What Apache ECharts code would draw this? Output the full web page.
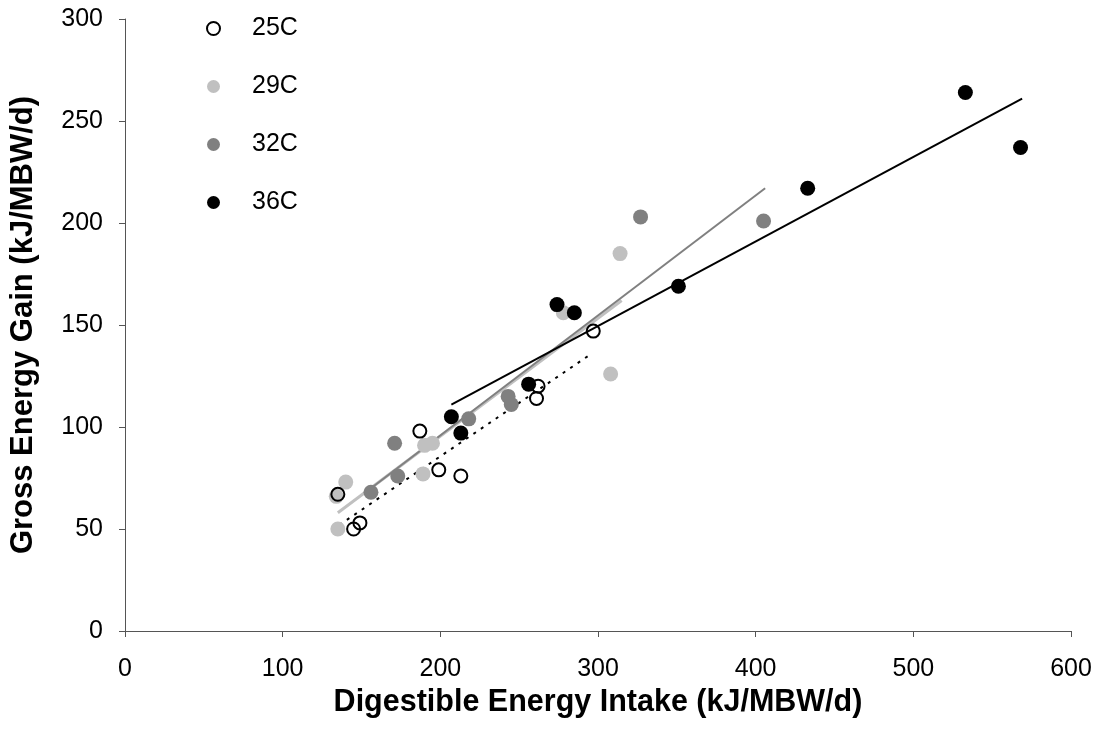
<!DOCTYPE html>
<html><head><meta charset="utf-8">
<script src="https://cdn.jsdelivr.net/npm/echarts@6/dist/echarts.min.js"></script>
<style>html,body{margin:0;padding:0;background:#fff}#c{width:1096px;height:740px}</style>
</head><body><div id="c"></div>
<script>
const seriesNames = ['25C', '29C', '32C', '36C'];
const data25 = [[135,67],[145,50],[149,53],[187,98],[199,79],[213,76],[262,120],[261,114],[297,147]];
const data29 = [[135,50],[134,66],[140,73],[189,77],[190,91],[195,92],[278,156],[308,126],[314,185]];
const data32 = [[156,68],[171,92],[173,76],[218,104],[243,115],[245,111],[327,203],[405,201]];
const data36 = [[207,105],[213,97],[256,121],[274,160],[285,156],[351,169],[433,217],[533,264],[568,237]];
const trend25 = [[136,52],[296,136]];
const trend29 = [[135,58],[315,162]];
const trend32 = [[156,70],[406,217]];
const trend36 = [[207,111],[569,261]];
const xTicks = [0,100,200,300,400,500,600];
const yTicks = [0,50,100,150,200,250,300];

const chart = echarts.init(document.getElementById('c'));
const font = 'Arial, "Liberation Sans", sans-serif';
const sym = 15;
chart.setOption({
  animation:false,
  backgroundColor:'#fff',
  grid:{left:123,right:25,top:19,bottom:109,containLabel:false},
  legend:{
    orient:'vertical', left:201, top:11, itemGap:33, itemWidth:13, itemHeight:13,
    data:seriesNames.map(n=>({name:n,icon:'circle'})),
    textStyle:{fontFamily:font,fontSize:25,color:'#000',padding:[0,0,0,27]}
  },
  xAxis:{
    type:'value', min:xTicks[0], max:xTicks[xTicks.length-1], interval:100,
    name:'Digestible Energy Intake (kJ/MBW/d)', nameLocation:'middle', nameGap:47,
    nameTextStyle:{fontFamily:font,fontSize:30.5,fontWeight:'bold',color:'#000'},
    axisLine:{lineStyle:{color:'#555',width:1}},
    axisTick:{show:true,length:6,lineStyle:{color:'#555'}},
    axisLabel:{fontFamily:font,fontSize:25,color:'#000',margin:26},
    splitLine:{show:false}
  },
  yAxis:{
    type:'value', min:yTicks[0], max:yTicks[yTicks.length-1], interval:50,
    name:'Gross Energy Gain (kJ/MBW/d)', nameLocation:'middle', nameGap:86,
    nameTextStyle:{fontFamily:font,fontSize:31,fontWeight:'bold',color:'#000'},
    axisLine:{show:true,lineStyle:{color:'#555',width:1}},
    axisTick:{show:true,length:6,lineStyle:{color:'#555'}},
    axisLabel:{fontFamily:font,fontSize:25,color:'#000',margin:22},
    splitLine:{show:false}
  },
  series:[
    {name:'t29',type:'line',data:trend29,symbol:'none',lineStyle:{color:'#C0C0C0',width:3},z:1,silent:true},
    {name:'t32',type:'line',data:trend32,symbol:'none',lineStyle:{color:'#808080',width:2},z:1,silent:true},
    {name:'t25',type:'line',data:trend25,symbol:'none',lineStyle:{color:'#000',width:2,type:[3,6]},z:1,silent:true},
    {name:'t36',type:'line',data:trend36,symbol:'none',lineStyle:{color:'#000',width:2},z:1,silent:true},
    {name:'29C',type:'scatter',data:data29,symbol:'circle',symbolSize:sym,itemStyle:{color:'#C0C0C0',opacity:1},z:3},
    {name:'32C',type:'scatter',data:data32,symbol:'circle',symbolSize:sym,itemStyle:{color:'#808080',opacity:1},z:3},
    {name:'36C',type:'scatter',data:data36,symbol:'circle',symbolSize:sym,itemStyle:{color:'#000',opacity:1},z:3},
    {name:'25C',type:'scatter',data:data25,symbol:'circle',symbolSize:sym-2,itemStyle:{color:'rgba(255,255,255,0)',borderColor:'#000',borderWidth:2,opacity:1},z:4}
  ]
});
</script></body></html>
